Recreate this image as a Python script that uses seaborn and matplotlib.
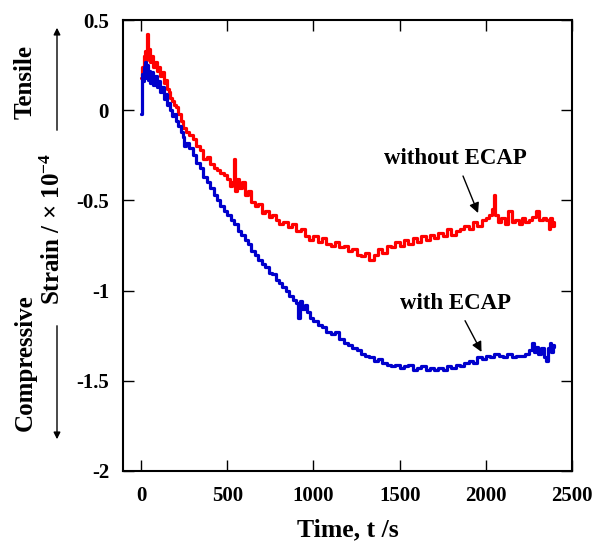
import numpy as np
import pandas as pd
import matplotlib
matplotlib.use("Agg")
import matplotlib.pyplot as plt
import seaborn as sns

# ---- data ----
t_without = [0, 5, 10, 15, 20, 25, 30, 35, 40, 45, 50, 60, 70, 80, 90, 100, 110, 120, 130, 140,
             150, 160, 170, 180, 190, 200, 215, 230, 245, 260, 280, 300, 320, 340, 360, 380, 400,
             420, 440, 460, 480, 500, 515, 530, 540, 545, 555, 570, 585, 600, 620, 640, 660, 680,
             700, 720, 740, 760, 780, 800, 825, 850, 875, 900, 925, 950, 975, 1000, 1025, 1050,
             1075, 1100, 1125, 1150, 1175, 1200, 1225, 1250, 1275, 1300, 1325, 1350, 1375, 1400,
             1425, 1450, 1475, 1500, 1525, 1550, 1575, 1600, 1625, 1650, 1675, 1700, 1725, 1750,
             1775, 1800, 1825, 1850, 1875, 1900, 1925, 1950, 1975, 2000, 2020, 2035, 2045, 2055,
             2070, 2090, 2110, 2130, 2150, 2170, 2190, 2210, 2230, 2250, 2270, 2290, 2310, 2330,
             2350, 2365, 2375, 2385, 2395]
s_without = [0.18, 0.24, 0.20, 0.30, 0.26, 0.33, 0.28, 0.42, 0.30, 0.34, 0.27, 0.30, 0.24, 0.27,
             0.22, 0.24, 0.19, 0.21, 0.15, 0.17, 0.12, 0.10, 0.07, 0.05, 0.03, 0.02, -0.02, -0.06,
             -0.10, -0.12, -0.14, -0.16, -0.20, -0.22, -0.27, -0.26, -0.30, -0.32, -0.33, -0.35,
             -0.36, -0.38, -0.42, -0.40, -0.27, -0.45, -0.38, -0.43, -0.40, -0.47, -0.45, -0.51,
             -0.53, -0.52, -0.57, -0.56, -0.59, -0.58, -0.61, -0.63, -0.62, -0.65, -0.63, -0.67,
             -0.66, -0.70, -0.72, -0.70, -0.73, -0.71, -0.74, -0.75, -0.73, -0.76, -0.75, -0.78,
             -0.77, -0.80, -0.81, -0.79, -0.83, -0.80, -0.77, -0.79, -0.75, -0.76, -0.73, -0.75,
             -0.72, -0.74, -0.71, -0.73, -0.70, -0.72, -0.69, -0.71, -0.68, -0.70, -0.66, -0.69,
             -0.67, -0.66, -0.64, -0.66, -0.62, -0.64, -0.61, -0.60, -0.58, -0.55, -0.47, -0.58,
             -0.62, -0.60, -0.63, -0.56, -0.62, -0.61, -0.63, -0.60, -0.62, -0.61, -0.59, -0.56,
             -0.61, -0.60, -0.61, -0.66, -0.60, -0.64, -0.62]

t_with = [0, 3, 6, 10, 15, 20, 25, 30, 35, 40, 45, 50, 60, 70, 80, 90, 100, 110, 120, 130, 140,
          150, 160, 170, 180, 190, 200, 215, 230, 245, 250, 260, 280, 300, 320, 340, 360, 380,
          400, 420, 440, 460, 480, 500, 520, 540, 560, 580, 600, 620, 640, 660, 680, 700, 720,
          740, 760, 780, 800, 820, 840, 860, 880, 900, 910, 920, 935, 950, 965, 980, 1000, 1025,
          1050, 1075, 1100, 1125, 1150, 1175, 1200, 1225, 1250, 1275, 1300, 1325, 1350, 1375,
          1400, 1425, 1450, 1475, 1500, 1525, 1550, 1575, 1600, 1625, 1650, 1675, 1700, 1725,
          1750, 1775, 1800, 1825, 1850, 1875, 1900, 1925, 1950, 1975, 2000, 2025, 2050, 2075,
          2100, 2125, 2150, 2175, 2200, 2225, 2250, 2270, 2280, 2290, 2300, 2320, 2340, 2350,
          2360, 2370, 2380, 2390, 2395]
s_with = [-0.02, 0.15, 0.20, 0.16, 0.24, 0.18, 0.27, 0.20, 0.25, 0.17, 0.22, 0.15, 0.21, 0.14,
          0.19, 0.13, 0.16, 0.10, 0.13, 0.06, 0.09, 0.03, 0.04, 0.00, -0.03, -0.02, -0.06, -0.09,
          -0.12, -0.15, -0.20, -0.18, -0.21, -0.25, -0.29, -0.32, -0.37, -0.40, -0.43, -0.47,
          -0.50, -0.53, -0.56, -0.58, -0.61, -0.63, -0.67, -0.69, -0.72, -0.74, -0.78, -0.80,
          -0.83, -0.85, -0.87, -0.90, -0.91, -0.94, -0.96, -0.98, -1.00, -1.03, -1.05, -1.07,
          -1.15, -1.06, -1.10, -1.08, -1.12, -1.15, -1.17, -1.19, -1.20, -1.23, -1.24, -1.23,
          -1.27, -1.29, -1.30, -1.32, -1.33, -1.35, -1.36, -1.37, -1.39, -1.38, -1.40, -1.41,
          -1.42, -1.41, -1.43, -1.42, -1.41, -1.44, -1.43, -1.42, -1.44, -1.43, -1.44, -1.43,
          -1.44, -1.42, -1.43, -1.41, -1.42, -1.40, -1.39, -1.40, -1.37, -1.38, -1.36, -1.37,
          -1.35, -1.36, -1.37, -1.35, -1.37, -1.36, -1.36, -1.35, -1.33, -1.29, -1.34, -1.31,
          -1.35, -1.32, -1.37, -1.39, -1.32, -1.29, -1.34, -1.30, -1.31]

x_ticks = [0, 500, 1000, 1500, 2000, 2500]
y_ticks = [-2, -1.5, -1, -0.5, 0, 0.5]
y_tick_labels = ["-2", "-1.5", "-1", "-0.5", "0", "0.5"]
label_without = "without ECAP"
label_with = "with ECAP"

# ---- style ----
sns.set_style("ticks")
plt.rcParams["font.family"] = ["Liberation Serif", "DejaVu Serif"]
plt.rcParams["font.weight"] = "bold"
plt.rcParams["text.color"] = "black"
plt.rcParams["axes.labelcolor"] = "black"
plt.rcParams["xtick.color"] = "black"
plt.rcParams["ytick.color"] = "black"
plt.rcParams["mathtext.fontset"] = "custom"
plt.rcParams["mathtext.rm"] = "Liberation Serif:bold"
plt.rcParams["mathtext.bf"] = "Liberation Serif:bold"
plt.rcParams["mathtext.it"] = "Liberation Serif:bold"

fig = plt.figure(figsize=(6.03, 5.41), dpi=100)
ax = fig.add_axes([0.204, 0.1294, 0.7446, 0.8336])

df_without = pd.DataFrame({"t": t_without, "s": s_without})
df_with = pd.DataFrame({"t": t_with, "s": s_with})
sns.lineplot(data=df_without, x="t", y="s", ax=ax, color="#FF0000", linewidth=2.3,
             estimator=None, sort=False, drawstyle="steps-post")
sns.lineplot(data=df_with, x="t", y="s", ax=ax, color="#0000CC", linewidth=2.3,
             estimator=None, sort=False, drawstyle="steps-post")

ax.set_xlim(-105, 2500)
ax.set_ylim(-2, 0.5)
ax.set_xticks(x_ticks)
ax.set_yticks(y_ticks)
ax.set_yticklabels(y_tick_labels)
ax.tick_params(direction="in", length=8, width=1.0, top=True, right=True,
               labelsize=15, colors="black")
ax.tick_params(axis="x", pad=11)
ax.tick_params(axis="y", pad=10)
for lab in ax.get_xticklabels() + ax.get_yticklabels():
    lab.set_fontweight("bold")
for sp in ax.spines.values():
    sp.set_linewidth(1.5)
    sp.set_color("black")

ax.set_xlabel("Time, t /s", fontsize=18.5, fontweight="bold", labelpad=9, color="black")
ax.set_ylabel("")

# annotations
ax.annotate(label_without, xy=(1955, -0.57), xytext=(1826, -0.267),
            fontsize=16.5, fontweight="bold", ha="center", va="center", color="black",
            arrowprops=dict(arrowstyle="-|>", color="black", lw=1.0,
                            shrinkA=3, shrinkB=0, mutation_scale=15))
ax.annotate(label_with, xy=(1975, -1.34), xytext=(1826, -1.07),
            fontsize=16.5, fontweight="bold", ha="center", va="center", color="black",
            arrowprops=dict(arrowstyle="-|>", color="black", lw=1.0,
                            shrinkA=3, shrinkB=0, mutation_scale=15))

# y-axis label and direction notes
fig.text(53 / 603, 1 - 229 / 541, "Strain / \u00d7 10$^{-4}$", rotation=90,
         fontsize=18, fontweight="bold", ha="center", va="center", color="black")
fig.text(25 / 603, 1 - 82 / 541, "Tensile", rotation=90,
         fontsize=18, fontweight="bold", ha="center", va="center", color="black")
fig.text(25 / 603, 1 - 363 / 541, "Compressive", rotation=90,
         fontsize=18, fontweight="bold", ha="center", va="center", color="black")
fig.add_artist(matplotlib.patches.FancyArrowPatch(
    (57 / 603, 1 - 133 / 541), (57 / 603, 1 - 25 / 541), transform=fig.transFigure,
    arrowstyle="-|>", mutation_scale=10, lw=1.0, color="black"))
fig.add_artist(matplotlib.patches.FancyArrowPatch(
    (57 / 603, 1 - 323 / 541), (57 / 603, 1 - 442 / 541), transform=fig.transFigure,
    arrowstyle="-|>", mutation_scale=10, lw=1.0, color="black"))

fig.savefig("out.png", dpi=100)
